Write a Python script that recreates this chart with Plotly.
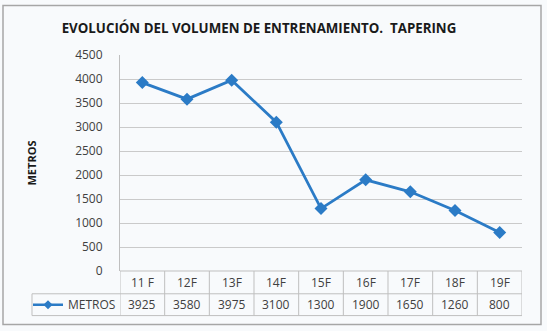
import plotly.graph_objects as go

# Training volume per session (metres)
sessions = ["11 F", "12F", "13F", "14F", "15F", "16F", "17F", "18F", "19F"]
metros = [3925, 3580, 3975, 3100, 1300, 1900, 1650, 1260, 800]
series_name = "METROS"
y_ticks = [0, 500, 1000, 1500, 2000, 2500, 3000, 3500, 4000, 4500]

W, H = 547, 331
L, R, T, B = 120, 25, 55, 58
plot_h = H - T - B
plot_w = W - L - R

BLUE = "#2b7bc6"
GRID = "#cacaca"
TEXT = "#404040"
FONT = "Open Sans"


def py(pixel_y):
    """Pixel row -> paper y."""
    return (H - B - pixel_y) / plot_h


def px(pixel_x):
    """Pixel column -> paper x."""
    return (pixel_x - L) / plot_w


fig = go.Figure()
fig.add_trace(go.Scatter(
    x=list(range(len(sessions))), y=metros, name=series_name,
    mode="lines+markers",
    line=dict(color=BLUE, width=2.8),
    marker=dict(symbol="diamond", size=10, color=BLUE),
    showlegend=False,
))
# Legend key for the data table (smaller marker than the plotted series)
fig.add_trace(go.Scatter(
    x=[None], y=[None], name=series_name, mode="lines+markers",
    line=dict(color=BLUE, width=2.5),
    marker=dict(symbol="diamond", size=7, color=BLUE),
    showlegend=True,
))

shapes = []
annotations = []

# Data table below the plot
row1_top, row1_bot, row2_bot = 273, 296, 318
line_style = dict(color="#bfbfbf", width=1)
for yy in (row1_bot, row2_bot):
    shapes.append(dict(type="line", xref="paper", yref="paper",
                       x0=px(32), x1=1, y0=py(yy), y1=py(yy), line=line_style))
shapes.append(dict(type="line", xref="paper", yref="paper",
                   x0=0, x1=1, y0=0, y1=0, line=line_style))
for i in range(len(sessions) + 1):
    shapes.append(dict(type="line", xref="x", yref="paper",
                       x0=i - 0.5, x1=i - 0.5, y0=py(row2_bot), y1=0,
                       line=line_style))
shapes.append(dict(type="line", xref="paper", yref="paper",
                   x0=px(32), x1=px(32), y0=py(row2_bot), y1=py(row1_bot),
                   line=line_style))

for i, (s, v) in enumerate(zip(sessions, metros)):
    annotations.append(dict(x=i, y=py((row1_top + row1_bot) / 2), xref="x",
                            yref="paper", text=s, showarrow=False,
                            xanchor="center", yanchor="middle",
                            font=dict(family=FONT, size=12, color=TEXT)))
    annotations.append(dict(x=i, y=py((row1_bot + row2_bot) / 2), xref="x",
                            yref="paper", text=str(v), showarrow=False,
                            xanchor="center", yanchor="middle",
                            font=dict(family=FONT, size=12, color=TEXT)))

# Outer chart border
shapes.append(dict(type="rect", xref="paper", yref="paper",
                   x0=px(3), x1=px(541), y0=py(327), y1=py(5),
                   line=dict(color="#a6a6a6", width=1.5)))

fig.update_layout(
    width=W, height=H,
    margin=dict(l=L, r=R, t=T, b=B),
    paper_bgcolor="#f8fafc", plot_bgcolor="#f8fafc",
    title=dict(text="<b>EVOLUCIÓN DEL VOLUMEN DE ENTRENAMIENTO.  TAPERING</b>",
               xref="container", yref="container",
               x=259 / W, xanchor="center", y=1 - 28 / H, yanchor="middle",
               font=dict(family=FONT, size=13.3, color="#1a1a1a")),
    xaxis=dict(range=[-0.5, len(sessions) - 0.5], showticklabels=False,
               showgrid=False, zeroline=False, ticks=""),
    yaxis=dict(range=[0, 4500], tickvals=y_ticks, showgrid=True,
               gridcolor=GRID, gridwidth=1, zeroline=False,
               showline=True, linecolor="#bfbfbf", linewidth=1,
               tickfont=dict(family=FONT, size=12, color=TEXT),
               ticks="", ticklen=0, ticklabelstandoff=14,
               title=dict(text="<b>METROS</b>", standoff=36,
                          font=dict(family=FONT, size=11, color="#1a1a1a"))),
    legend=dict(x=px(28), y=py(307), xanchor="left", yanchor="middle",
                bgcolor="rgba(0,0,0,0)", font=dict(family=FONT, size=12, color=TEXT),
                itemwidth=30, tracegroupgap=0),
    shapes=shapes,
    annotations=annotations,
)

fig.write_html("out.html")
